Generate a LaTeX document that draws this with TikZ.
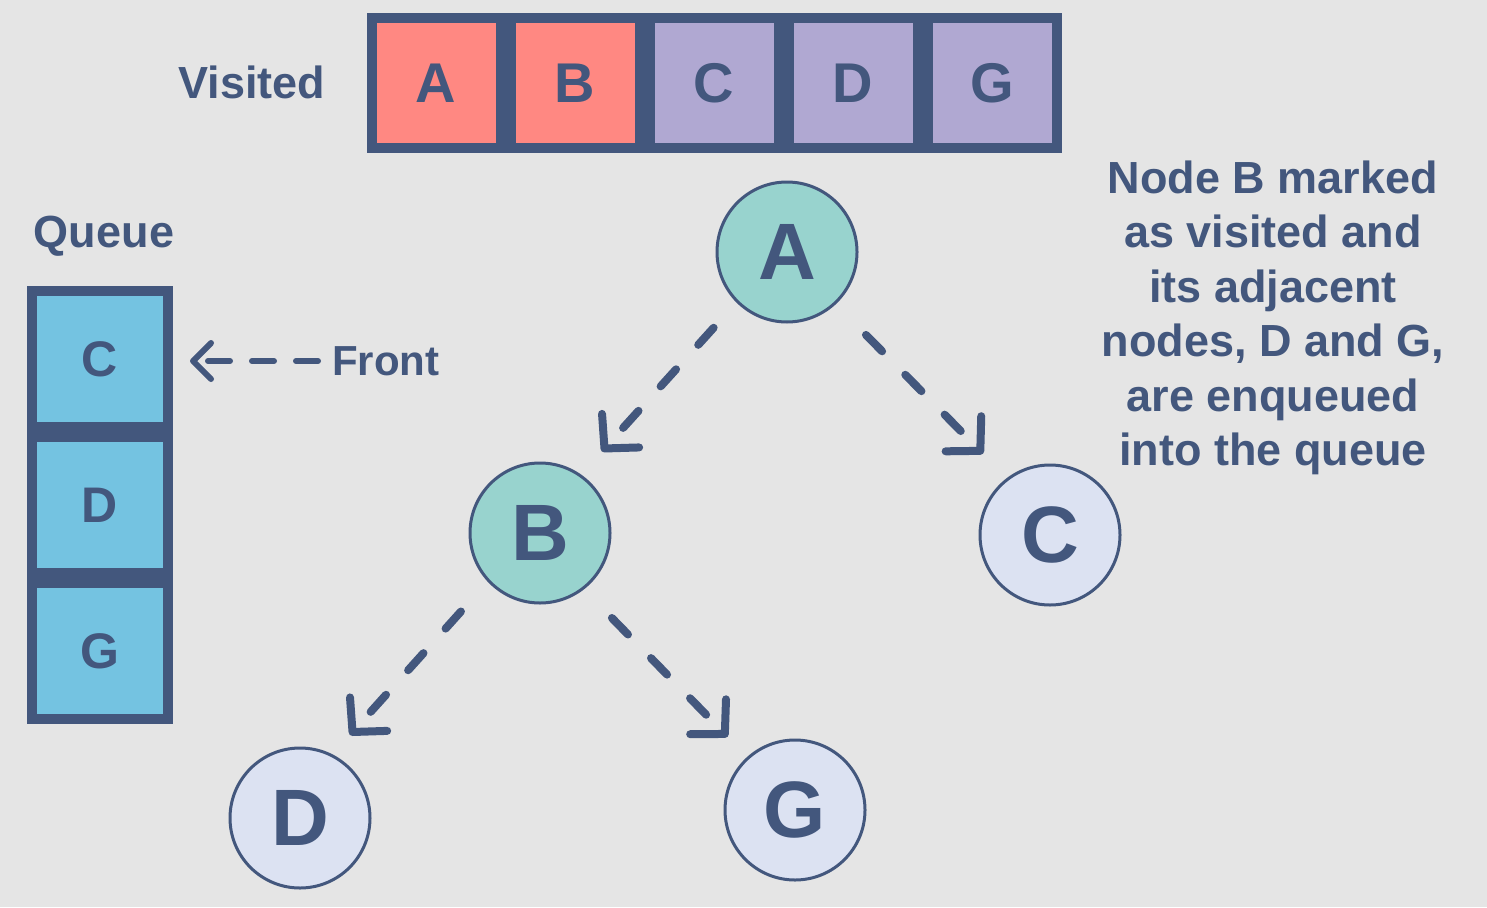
\documentclass[tikz,border=0pt]{standalone}
\usepackage{fontspec}
\setmainfont{Liberation Sans}
\usepackage{tikz}
\usetikzlibrary{arrows.meta}
\definecolor{ink}{HTML}{43577D}
\definecolor{bg}{HTML}{E5E5E5}
\definecolor{visred}{HTML}{FF8882}
\definecolor{vispurple}{HTML}{B0A8D2}
\definecolor{qblue}{HTML}{74C3E1}
\definecolor{doneteal}{HTML}{98D3CE}
\definecolor{todo}{HTML}{DCE2F2}

\begin{document}
\begin{tikzpicture}[x=1pt,y=-1pt,
  box/.style={draw=ink,line width=10pt,minimum width=129pt,minimum height=129pt,inner sep=0pt,text=ink,font=\fontsize{56}{66}\selectfont\bfseries},
  qbox/.style={box,fill=qblue,minimum width=136pt,minimum height=136pt,font=\fontsize{50}{60}\selectfont\bfseries},
  vert/.style={circle,draw=ink,line width=3pt,minimum size=140pt,inner sep=0pt,text=ink,font=\fontsize{80}{96}\selectfont\bfseries},
  lbl/.style={text=ink,inner sep=0pt,font=\fontsize{45}{54.5}\selectfont\bfseries},
  edge/.style={draw=ink,line width=8pt,line cap=round,dash pattern=on 23pt off 33pt,-{Straight Barb[length=24pt,width=50pt,round]}}]
\fill[bg] (0,0) rectangle (1487,907);
\useasboundingbox (0,0) rectangle (1487,907);
% visited row
\node[lbl] (visited) at (252,82) {Visited};
\node[box,fill=visred] (vA) at (436,83) {A};
\node[box,fill=visred] (vB) at (575,83) {B};
\node[box,fill=vispurple] (vC) at (714,83) {C};
\node[box,fill=vispurple] (vD) at (853,83) {D};
\node[box,fill=vispurple] (vG) at (992,83) {G};
% queue
\node[lbl] (queue) at (104,236) {Queue};
\node[qbox] (qC) at (100,359) {C};
\node[qbox] (qD) at (100,505) {D};
\node[qbox] (qG) at (100,651) {G};
\node[lbl,font=\fontsize{42}{50}\selectfont\bfseries,anchor=west] (front) at (332,361) {Front};
\draw[draw=ink,line width=6pt,line cap=round,dash pattern=on 22pt off 22pt,-{Straight Barb[length=18pt,width=36pt,round]},shorten <=14pt,shorten >=17pt] (front.west) -- (front.west -| qC.east);
% tree
\node[vert,fill=doneteal] (A) at (787,252) {A};
\node[vert,fill=doneteal] (B) at (540,533) {B};
\node[vert,fill=todo] (C) at (1050,535) {C};
\node[vert,fill=todo] (D) at (300,818) {D};
\node[vert,fill=todo] (G) at (795,810) {G};
\draw[edge,shorten <=34pt,shorten >=31pt] (A.225) -- (B.55);
\draw[edge,shorten <=43pt,shorten >=34pt] (A.-47) -- (C.127);
\draw[edge,shorten <=40pt,shorten >=26pt] (B.223) -- (D.63);
\draw[edge,shorten <=40pt,shorten >=28pt] (B.-52) -- (G.132);
\node[lbl,align=center] (note) at (1273,318) {Node B marked\\as visited and\\its adjacent\\nodes, D and G,\\are enqueued\\into the queue};
\end{tikzpicture}
\end{document}
